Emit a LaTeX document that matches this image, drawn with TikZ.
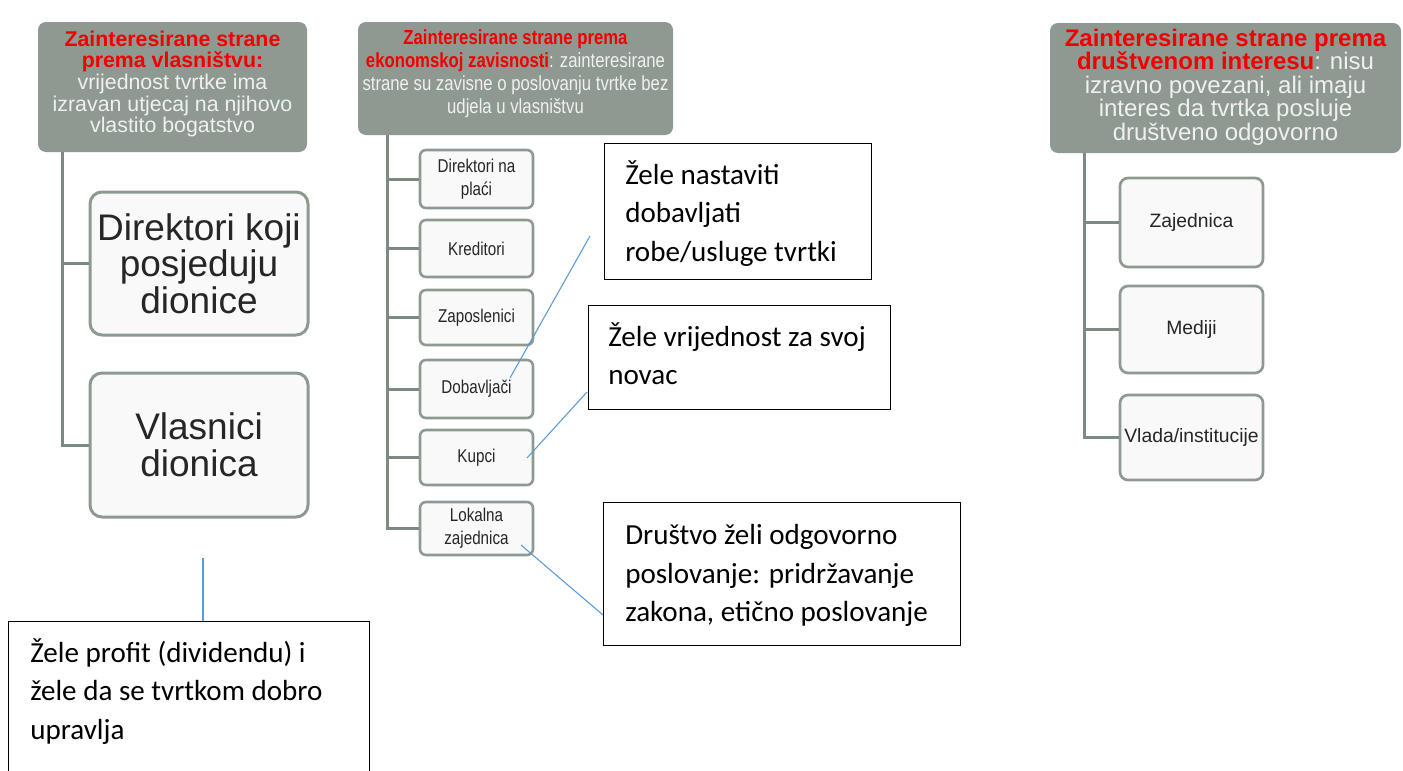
\documentclass[tikz,border=0pt]{standalone}
\usepackage{fontspec}
\setmainfont{Liberation Sans}
\newfontfamily\narrowsf[FakeStretch=0.82]{Liberation Sans}
\newfontfamily\calib{Carlito}
\usetikzlibrary{calc}
\definecolor{hdrfill}{HTML}{8E9A91}
\definecolor{bordc}{HTML}{8E9A91}
\definecolor{treec}{HTML}{7D8A81}
\definecolor{boxfill}{HTML}{F8F9F8}
\definecolor{boxtext}{HTML}{262626}
\definecolor{hdrtext}{HTML}{F0F0F0}
\definecolor{linkc}{HTML}{5B9BD5}
\definecolor{hdrred}{HTML}{F20000}
\newcommand{\redb}[1]{{\color{hdrred}\bfseries #1}}
\tikzset{
  hdr/.style={rounded corners=6pt, fill=hdrfill, draw=none, inner sep=0pt},
  hdrtxt/.style={text=hdrtext, align=center, inner sep=0pt},
  lbox/.style={rounded corners=9pt, draw=bordc, line width=2.25pt, fill=boxfill, text=boxtext, align=center, inner sep=0pt,
    font=\fontsize{27.75}{27.5}\selectfont},
  mbox/.style={rounded corners=4.5pt, draw=bordc, line width=1.9pt, fill=boxfill, text=boxtext, align=center, inner sep=0pt,
    minimum width=113*0.75pt, font=\narrowsf\fontsize{13.9}{17.25}\selectfont},
  rbox/.style={rounded corners=6pt, draw=bordc, line width=2pt, fill=boxfill, text=boxtext, align=center, inner sep=0pt,
    minimum width=143*0.75pt, font=\fontsize{14.5}{17}\selectfont},
  tree/.style={draw=treec, line width=2.25pt},
  callout/.style={draw=black, line width=1pt, fill=white, anchor=north west, inner sep=0pt},
  ctext/.style={anchor=north west, align=left, inner sep=0pt, font=\calib\fontsize{21.8}{29}\selectfont},
  link/.style={draw=linkc, line width=0.8pt}
}
\begin{document}
\begin{tikzpicture}[x=0.75pt,y=-0.75pt]
\useasboundingbox[fill=white] (0,0) rectangle (1403,771);

% headers
\node[hdr, minimum width=269*0.75pt, minimum height=130*0.75pt] (h1) at (172.5,87) {};
\node[hdrtxt, font=\fontsize{16}{16.3}\selectfont] (h1t) at ($(h1.center)+(0,-3)$)
  {\redb{Zainteresirane strane}\\\redb{prema vlasništvu:}\\vrijednost tvrtke ima\\izravan utjecaj na njihovo\\vlastito bogatstvo};
\node[hdr, minimum width=315*0.75pt, minimum height=113*0.75pt] (h2) at (515.5,78.5) {};
\node[hdrtxt, font=\narrowsf\fontsize{15.3}{17.25}\selectfont] (h2t) at ($(h2.center)+(0,-5)$)
  {\redb{Zainteresirane strane prema}\\\redb{ekonomskoj zavisnosti}: zainteresirane\\strane su zavisne o poslovanju tvrtke bez\\udjela u vlasništvu};
\node[hdr, minimum width=351*0.75pt, minimum height=130*0.75pt] (h3) at (1225.5,88) {};
\node[hdrtxt, font=\fontsize{18}{17.6}\selectfont] (h3t) at ($(h3.center)+(0,-1)$)
  {\redb{Zainteresirane strane prema}\\\redb{društvenom interesu}: nisu\\izravno povezani, ali imaju\\interes da tvrtka posluje\\društveno odgovorno};

% left tree
\node[lbox, minimum width=218*0.75pt, minimum height=143*0.75pt] (b1) at (199,263.5) {Direktori koji\\posjeduju\\dionice};
\node[lbox, minimum width=218*0.75pt, minimum height=144*0.75pt] (b2) at (199,445) {Vlasnici\\dionica};
\coordinate (t1) at ($(h1.south west)+(25,0)$);
\draw[tree] (t1) |- (b1.west);
\draw[tree] (t1) |- (b2.west);

% middle tree
\node[mbox, minimum height=58*0.75pt] (m1) at (476.5,179) {Direktori na\\plaći};
\node[mbox, minimum height=57*0.75pt] (m2) at (476.5,248.5) {Kreditori};
\node[mbox, minimum height=55*0.75pt] (m3) at (476.5,317.5) {Zaposlenici};
\node[mbox, minimum height=58*0.75pt] (m4) at (476.5,389) {Dobavljači};
\node[mbox, minimum height=55*0.75pt] (m5) at (476.5,457.5) {Kupci};
\node[mbox, minimum height=53*0.75pt] (m6) at (476.5,528.5) {Lokalna\\zajednica};
\coordinate (t2) at ($(h2.south west)+(30,0)$);
\foreach \m in {m1,m2,m3,m4,m5,m6} \draw[tree] (t2) |- (\m.west);

% right tree
\node[rbox, minimum height=89*0.75pt] (r1) at (1191.5,222.5) {Zajednica};
\node[rbox, minimum height=87*0.75pt] (r2) at (1191.5,329.5) {Mediji};
\node[rbox, minimum height=85*0.75pt] (r3) at (1191.5,437.5) {Vlada/institucije};
\coordinate (t3) at ($(h3.south west)+(35,0)$);
\foreach \r in {r1,r2,r3} \draw[tree] (t3) |- (\r.west);

% callouts
\node[callout, minimum width=267*0.75pt, minimum height=136*0.75pt] (c1) at (604,143) {};
\node[ctext] (c1t) at ($(c1.north west)+(21,17)$) {Žele nastaviti\\dobavljati\\robe/usluge tvrtki};
\node[callout, minimum width=302*0.75pt, minimum height=104*0.75pt] (c2) at (588,305) {};
\node[ctext] (c2t) at ($(c2.north west)+(20,17)$) {Žele vrijednost za svoj\\novac};
\node[callout, minimum width=357*0.75pt, minimum height=143*0.75pt] (c3) at (603,502) {};
\node[ctext] (c3t) at ($(c3.north west)+(22,22)$) {Društvo želi odgovorno\\poslovanje: pridržavanje\\zakona, etično poslovanje};
\node[callout, minimum width=361*0.75pt, minimum height=200*0.75pt] (c4) at (8,621) {};
\node[ctext] (c4t) at ($(c4.north west)+(22,17)$) {Žele profit (dividendu) i\\žele da se tvrtkom dobro\\upravlja};

% links
\coordinate (p1) at (510,378); \coordinate (q1) at (590,236);
\draw[link] (p1) -- (q1);
\coordinate (p2) at (527,458); \coordinate (q2) at (587,392);
\draw[link] (p2) -- (q2);
\coordinate (p3) at (521,545);
\draw[link] (p3) -- ($(c3.north west)+(0,113)$);
\coordinate (p4) at (203,558);
\draw[link] (p4) -- ($(c4.north west)+(195,0)$);
\end{tikzpicture}
\end{document}
